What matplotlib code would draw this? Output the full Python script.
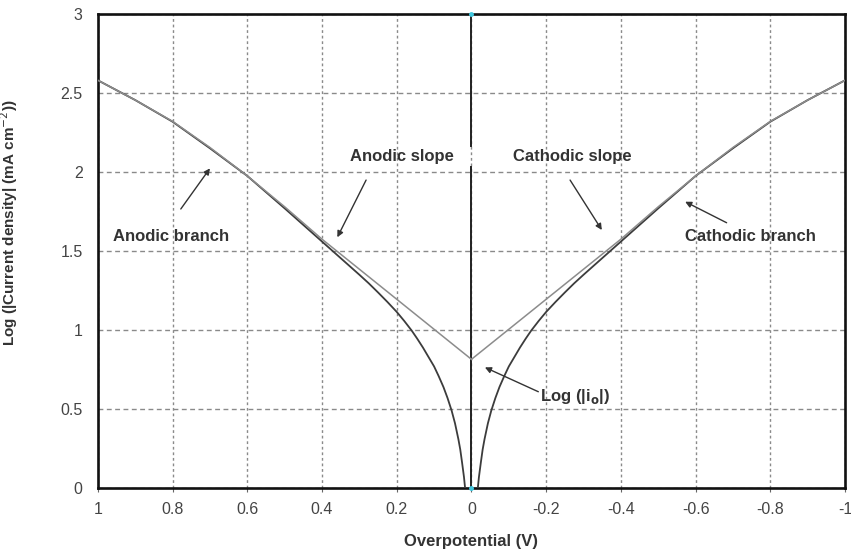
import matplotlib
matplotlib.use("Agg")
import matplotlib.pyplot as plt
import numpy as np

plt.rcParams['font.family'] = ['Liberation Sans', 'DejaVu Sans']

# overpotential (V), anodic side; cathodic side is the mirror image
eta_tafel = [1.0, 0.9, 0.8, 0.7, 0.6, 0.5, 0.4, 0.3, 0.2, 0.1, 0.0]
log_tafel = [2.58, 2.455, 2.32, 2.155, 1.975, 1.78, 1.575, 1.385, 1.195, 1.005, 0.815]

eta_bv = [1.0, 0.9, 0.8, 0.7, 0.6, 0.5, 0.45, 0.4, 0.35, 0.3, 0.275, 0.25,
          0.225, 0.2, 0.18, 0.16, 0.145, 0.13, 0.115, 0.1, 0.088, 0.075,
          0.064, 0.053, 0.044, 0.035, 0.03, 0.025, 0.02, 0.017, 0.012]
log_bv = [2.58, 2.455, 2.318, 2.15, 1.975, 1.77, 1.665, 1.56, 1.455, 1.35,
          1.296, 1.238, 1.178, 1.115, 1.058, 0.997, 0.945, 0.89, 0.83, 0.77,
          0.71, 0.64, 0.57, 0.49, 0.41, 0.31, 0.245, 0.16, 0.07, 0.0, -0.15]

xticks = [1, 0.8, 0.6, 0.4, 0.2, 0, -0.2, -0.4, -0.6, -0.8, -1]
xlabels = ['1', '0.8', '0.6', '0.4', '0.2', '0', '-0.2', '-0.4', '-0.6', '-0.8', '-1']
yticks = [0, 0.5, 1, 1.5, 2, 2.5, 3]
ylabels = ['0', '0.5', '1', '1.5', '2', '2.5', '3']

fig = plt.figure(figsize=(8.51, 5.56), dpi=100)
ax = fig.add_axes([0.115, 0.122, 0.878, 0.853])

# Butler-Volmer (dark) and Tafel extrapolation (grey)
ax.plot(eta_bv, log_bv, color='#3c3c3c', lw=1.3, zorder=3)
ax.plot(-np.array(eta_bv), log_bv, color='#3c3c3c', lw=1.3, zorder=3)
ax.plot(eta_tafel, log_tafel, color='#8c8c8c', lw=1.1, zorder=4)
ax.plot(-np.array(eta_tafel), log_tafel, color='#8c8c8c', lw=1.1, zorder=4)

# vertical line at zero overpotential (broken behind the labels)
ax.plot([0, 0], [0, 2.03], color='#222222', lw=1.4, zorder=2)
ax.plot([0, 0], [2.165, 3], color='#222222', lw=1.4, zorder=2)
ax.plot([0, 0], [0, 3], ls='none', marker='o', ms=2.5, color='#40c8e0',
        clip_on=False, zorder=6)

ax.set_xlim(1, -1)
ax.set_ylim(0, 3)
ax.set_xticks(xticks)
ax.set_xticklabels(xlabels)
ax.set_yticks(yticks)
ax.set_yticklabels(ylabels)
ax.tick_params(axis='x', length=3, width=0.8, pad=7, labelsize=11.5,
               labelcolor='#444444', color='#666666')
ax.tick_params(axis='y', length=0, pad=11, labelsize=11.5, labelcolor='#444444')

for s in ax.spines.values():
    s.set_linewidth(1.9)
    s.set_color('#111111')

ax.xaxis.grid(True, color='#8a8a8a', lw=1.0, ls=(0, (2, 2)))
ax.yaxis.grid(True, color='#8a8a8a', lw=1.0, ls=(0, (3.5, 2.5)))
ax.set_axisbelow(True)

ax.set_xlabel('Overpotential (V)', fontsize=12, fontweight='bold',
              color='#333333', labelpad=12)
ax.set_ylabel('Log (|Current density| (mA cm$^{-2}$))', fontsize=11,
              fontweight='bold', color='#333333')
ax.yaxis.set_label_coords(-0.104, 0.56)

arrow = dict(arrowstyle='-|>', color='#333333', lw=1.0, mutation_scale=9,
             shrinkA=0, shrinkB=0)
tkw = dict(fontsize=12, fontweight='bold', color='#333333', ha='center', va='center')

ax.text(0.805, 1.589, 'Anodic branch', **tkw)
ax.annotate('', xy=(0.700, 2.023), xytext=(0.778, 1.766), arrowprops=arrow)

ax.text(0.186, 2.095, 'Anodic slope', **tkw)
ax.annotate('', xy=(0.359, 1.587), xytext=(0.282, 1.949), arrowprops=arrow)

ax.text(-0.269, 2.095, 'Cathodic slope', **tkw)
ax.annotate('', xy=(-0.349, 1.633), xytext=(-0.264, 1.949), arrowprops=arrow)

ax.text(-0.746, 1.589, 'Cathodic branch', **tkw)
ax.annotate('', xy=(-0.572, 1.812), xytext=(-0.683, 1.679), arrowprops=arrow)

ax.text(-0.276, 0.582, 'Log (|i$_\\mathbf{o}$|)', **tkw)
ax.annotate('', xy=(-0.036, 0.764), xytext=(-0.179, 0.61), arrowprops=arrow)

fig.savefig('out.png', dpi=100)
